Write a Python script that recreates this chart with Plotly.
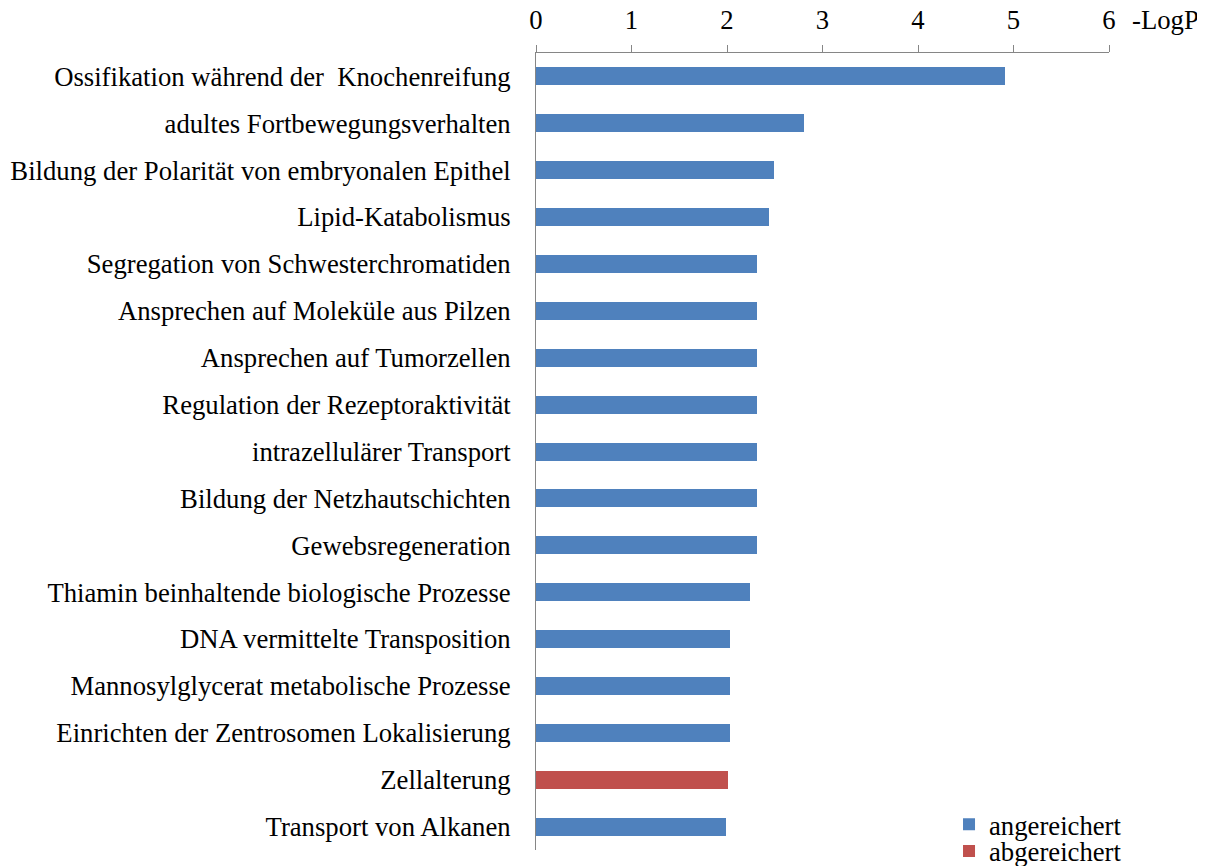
import plotly.graph_objects as go

categories = [
    "Ossifikation während der \u00a0Knochenreifung",
    "adultes Fortbewegungsverhalten",
    "Bildung der Polarität von embryonalen Epithel",
    "Lipid-Katabolismus",
    "Segregation von Schwesterchromatiden",
    "Ansprechen auf Moleküle aus Pilzen",
    "Ansprechen auf Tumorzellen",
    "Regulation der Rezeptoraktivität",
    "intrazellulärer Transport",
    "Bildung der Netzhautschichten",
    "Gewebsregeneration",
    "Thiamin beinhaltende biologische Prozesse",
    "DNA vermittelte Transposition",
    "Mannosylglycerat metabolische Prozesse",
    "Einrichten der Zentrosomen Lokalisierung",
    "Zellalterung",
    "Transport von Alkanen",
]
angereichert = [4.91, 2.81, 2.49, 2.44, 2.31, 2.31, 2.31, 2.31, 2.31, 2.31, 2.31,
                2.24, 2.03, 2.03, 2.03, None, 1.99]
abgereichert = [None, None, None, None, None, None, None, None, None, None, None,
                None, None, None, None, 2.01, None]
tick_vals = [0, 1, 2, 3, 4, 5, 6]

FONT = "Liberation Serif, Times New Roman, serif"
FS = 26.7
BLUE = "#4F81BD"
RED = "#C0504D"
AXIS = "#868686"

fig = go.Figure()
fig.add_trace(go.Bar(y=categories, x=angereichert, orientation="h", name="angereichert",
                     marker=dict(color=BLUE, line=dict(width=0)), legend="legend",
                     showlegend=True))
fig.add_trace(go.Bar(y=categories, x=abgereichert, orientation="h", name="abgereichert",
                     marker=dict(color=RED, line=dict(width=0)), legend="legend2",
                     showlegend=True))

# page body adds an 8px offset, so the figure is sized/placed to compensate
fig.update_layout(
    width=1197, height=858,
    paper_bgcolor="white", plot_bgcolor="white",
    margin=dict(l=528, r=96, t=45, b=16, autoexpand=False),
    showlegend=True,
    barmode="stack", bargap=0.616,
    font=dict(family=FONT, size=FS, color="#000000"),
    xaxis=dict(side="top", range=[0, 6], tickvals=tick_vals, showgrid=False,
               zeroline=False, showline=True, linecolor=AXIS, linewidth=1,
               ticks="outside", ticklen=7, tickcolor=AXIS, ticklabelstandoff=5,
               automargin=False, tickfont=dict(family=FONT, size=FS)),
    yaxis=dict(categoryorder="array", categoryarray=categories, autorange="reversed",
               showgrid=False, zeroline=False, showline=True, linecolor=AXIS,
               linewidth=1, ticks="", ticklabelstandoff=19, automargin=False,
               tickfont=dict(family=FONT, size=FS)),
    legend=dict(x=0.7208, y=0.032, xanchor="left", yanchor="middle",
                font=dict(family=FONT, size=FS), itemwidth=30, bgcolor="rgba(0,0,0,0)"),
    legend2=dict(x=0.7208, y=-0.0015, xanchor="left", yanchor="middle",
                 font=dict(family=FONT, size=FS), itemwidth=30, bgcolor="rgba(0,0,0,0)"),
    annotations=[dict(text="-LogP", xref="paper", yref="paper", x=1.098, y=1.0414,
                      xanchor="center", yanchor="middle", showarrow=False,
                      font=dict(family=FONT, size=FS))],
)

fig.write_html("out.html")
